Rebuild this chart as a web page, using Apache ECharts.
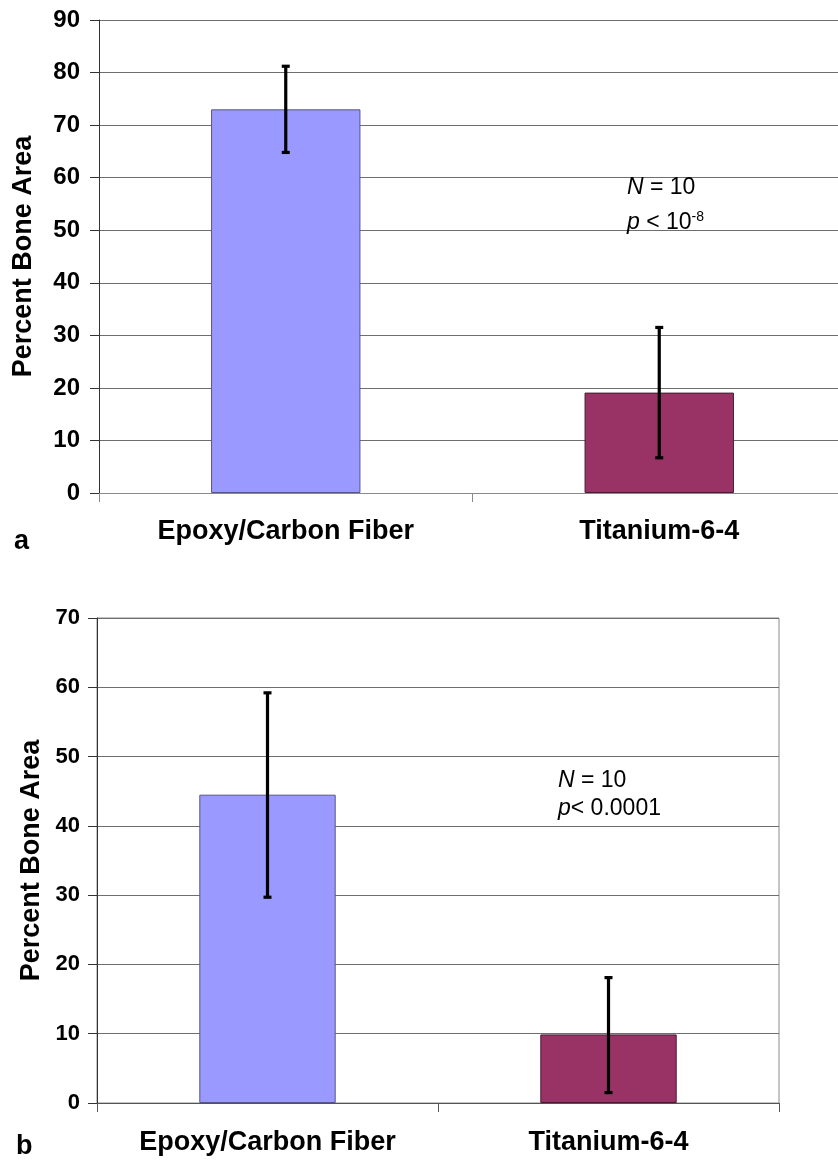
<!DOCTYPE html>
<html>
<head>
<meta charset="utf-8">
<script src="https://cdn.jsdelivr.net/npm/echarts@6/dist/echarts.min.js"></script>
<style>
html,body{margin:0;padding:0;background:#fff;overflow:hidden;}
#chart{width:838px;height:1163px;}
</style>
</head>
<body>
<div id="chart"></div>
<script>
// ---- Data ----
const categories = ['Epoxy/Carbon Fiber', 'Titanium-6-4'];
// Panel a
const meanA = [73.0, 19.1];
const errLowA = [64.8, 6.7];
const errHighA = [81.2, 31.5];
const yMaxA = 90;
// Panel b
const meanB = [44.5, 9.9];
const errLowB = [29.7, 1.5];
const errHighB = [59.2, 18.1];
const yMaxB = 70;
const yInterval = 10;
const yAxisName = 'Percent Bone Area';

// ---- Styles ----
const FONT = '"Liberation Sans", Arial, Helvetica, sans-serif';
const barColors = ['#9999FF', '#993366'];
const barBorders = ['#55558a', '#4a1a33'];

const chart = echarts.init(document.getElementById('chart'), null, {renderer: 'canvas'});

function barData(vals) {
  return vals.map((v, i) => ({
    value: v,
    itemStyle: {color: barColors[i], borderColor: barBorders[i], borderWidth: 1}
  }));
}
function errData(lo, hi) {
  return categories.map((c, i) => [i, lo[i], hi[i]]);
}
function renderErr(params, api) {
  const x = api.value(0);
  const lo = api.coord([x, api.value(1)]);
  const hi = api.coord([x, api.value(2)]);
  const cap = 4;
  const st = {stroke: '#000', lineWidth: 3.2};
  return {
    type: 'group',
    children: [
      {type: 'line', shape: {x1: lo[0], y1: lo[1], x2: hi[0], y2: hi[1]}, style: st},
      {type: 'line', shape: {x1: hi[0] - cap, y1: hi[1], x2: hi[0] + cap, y2: hi[1]}, style: st},
      {type: 'line', shape: {x1: lo[0] - cap, y1: lo[1], x2: lo[0] + cap, y2: lo[1]}, style: st}
    ]
  };
}

function xAxisCfg(gridIndex, lineColor, fontSize, margin) {
  return {
    type: 'category', gridIndex: gridIndex, data: categories,
    axisLine: {show: true, lineStyle: {color: lineColor, width: 1}},
    axisTick: {show: true, length: 9, alignWithLabel: false, lineStyle: {color: lineColor}},
    axisLabel: {color: '#000', fontFamily: FONT, fontWeight: 'bold', fontSize: fontSize, margin: margin},
    splitLine: {show: false}
  };
}
function yAxisCfg(gridIndex, max, fontSize, margin, nameGap) {
  return {
    type: 'value', gridIndex: gridIndex, min: 0, max: max, interval: yInterval,
    name: yAxisName, nameLocation: 'middle', nameRotate: 90, nameGap: nameGap,
    nameTextStyle: {color: '#000', fontFamily: FONT, fontWeight: 'bold', fontSize: 27},
    axisLine: {show: true, lineStyle: {color: '#333', width: 1}},
    axisTick: {show: true, length: 9, lineStyle: {color: '#333'}},
    axisLabel: {color: '#000', fontFamily: FONT, fontWeight: 'bold', fontSize: fontSize, margin: margin},
    splitLine: {show: true, lineStyle: {color: '#6e6e6e', width: 1}}
  };
}

const option = {
  animation: false,
  backgroundColor: '#fff',
  grid: [
    {left: 99, top: 20, width: 747, height: 473, containLabel: false, outerBoundsMode: 'none'},
    {left: 97, top: 618, right: 59, bottom: 60, containLabel: false, outerBoundsMode: 'none',
     show: true, borderColor: '#8a8a8a', borderWidth: 1, backgroundColor: 'transparent'}
  ],
  xAxis: [
    xAxisCfg(0, '#8a8a8a', 27, 25),
    xAxisCfg(1, '#555', 27, 26)
  ],
  yAxis: [
    yAxisCfg(0, yMaxA, 24, 19, 62),
    yAxisCfg(1, yMaxB, 22, 17, 52)
  ],
  series: [
    {type: 'bar', xAxisIndex: 0, yAxisIndex: 0, barWidth: '40%', data: barData(meanA), z: 2},
    {type: 'custom', xAxisIndex: 0, yAxisIndex: 0, renderItem: renderErr, data: errData(errLowA, errHighA), z: 5},
    {type: 'bar', xAxisIndex: 1, yAxisIndex: 1, barWidth: '40%', data: barData(meanB), z: 2},
    {type: 'custom', xAxisIndex: 1, yAxisIndex: 1, renderItem: renderErr, data: errData(errLowB, errHighB), z: 5}
  ],
  graphic: [
    {type: 'text', left: 627, top: 176, z: 10, style: {
      text: '{i|N} = 10', font: '23px ' + FONT, fill: '#000',
      rich: {i: {fontStyle: 'italic', fontFamily: FONT, fontSize: 23, fill: '#000'}}
    }},
    {type: 'text', left: 627, top: 210, z: 10, style: {
      text: '{i|p} < 10{s|-8}', font: '23px ' + FONT, fill: '#000',
      rich: {
        i: {fontStyle: 'italic', fontFamily: FONT, fontSize: 23, fill: '#000'},
        s: {fontFamily: FONT, fontSize: 14, fill: '#000', padding: [0, 0, 12, 0]}
      }
    }},
    {type: 'text', left: 558, top: 769, z: 10, style: {
      text: '{i|N} = 10', font: '23px ' + FONT, fill: '#000',
      rich: {i: {fontStyle: 'italic', fontFamily: FONT, fontSize: 23, fill: '#000'}}
    }},
    {type: 'text', left: 558, top: 797, z: 10, style: {
      text: '{i|p}< 0.0001', font: '23px ' + FONT, fill: '#000',
      rich: {i: {fontStyle: 'italic', fontFamily: FONT, fontSize: 23, fill: '#000'}}
    }},
    {type: 'text', left: 14, top: 528, z: 10, style: {text: 'a', font: 'bold 27px ' + FONT, fill: '#000'}},
    {type: 'text', left: 16, top: 1133, z: 10, style: {text: 'b', font: 'bold 27px ' + FONT, fill: '#000'}}
  ]
};
chart.setOption(option);
</script>
</body>
</html>
